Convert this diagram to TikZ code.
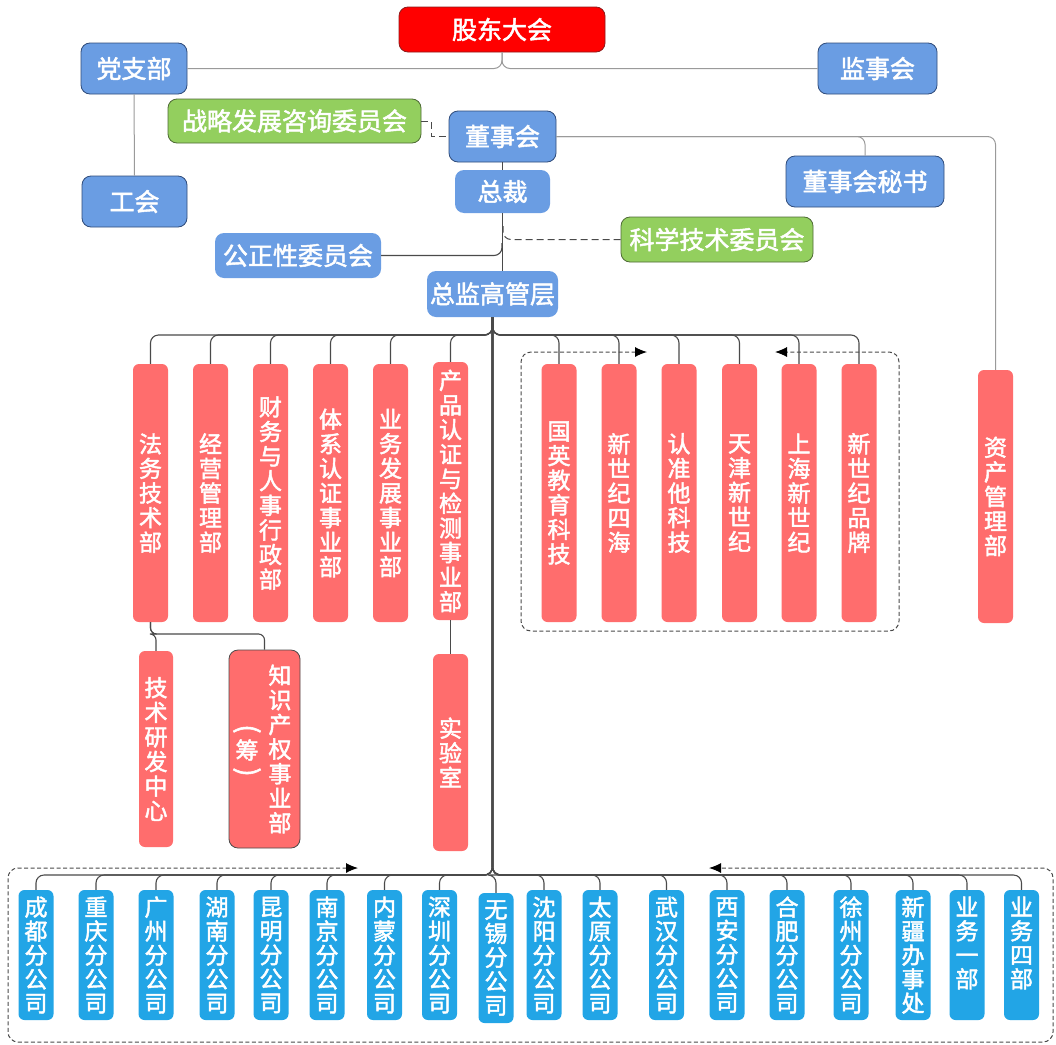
\documentclass[tikz,border=0pt]{standalone}
\usepackage{fontspec}
\setmainfont{Noto Sans CJK SC}[FakeBold=2]
\usetikzlibrary{arrows.meta}
\definecolor{gdred}{HTML}{FF0000}
\definecolor{gdborder}{HTML}{8E1B1B}
\definecolor{tblue}{HTML}{6A9DE3}
\definecolor{tborder}{HTML}{2F4B7A}
\definecolor{tgreen}{HTML}{93CF5E}
\definecolor{gborder}{HTML}{4E6A35}
\definecolor{salmon}{HTML}{FF6D6D}
\definecolor{bblue}{HTML}{22A5E6}
\definecolor{lgray}{HTML}{9A9A9A}
\definecolor{dgray}{HTML}{4A4A4A}
\begin{document}
\begin{tikzpicture}[x=1pt,y=-1pt,
 orgbox/.style={rounded corners=9pt, inner sep=0pt, text=white, font=\fontsize{25}{28}\selectfont},
 bluebd/.style={orgbox, fill=tblue, draw=tborder, line width=0.8pt},
 bluenb/.style={orgbox, fill=tblue},
 greenbox/.style={orgbox, fill=tgreen, draw=gborder, line width=0.8pt},
 colbox/.style={rounded corners=6pt, inner sep=0pt, fill=salmon, text=white, align=center, font=\fontsize{23}{24.6}\selectfont, minimum width=35pt, minimum height=258pt},
 bcolbox/.style={rounded corners=6pt, inner sep=0pt, fill=bblue, text=white, align=center, font=\fontsize{23}{24}\selectfont, minimum width=35pt, minimum height=130pt},
 vlabel/.style={inner sep=0pt, text=white, align=center, font=\fontsize{23}{24.6}\selectfont},
 parlabel/.style={inner sep=0pt, text=white, font=\fontsize{27}{27}\selectfont, rotate=-90},
 gline/.style={draw=lgray, line width=1pt, rounded corners=8pt},
 dline/.style={draw=dgray, line width=1.1pt, rounded corners=8pt},
 dashln/.style={draw=dgray, line width=1pt, dash pattern=on 4pt off 2.5pt},
 longdash/.style={draw=dgray, line width=1pt, dash pattern=on 7pt off 4pt},
 tipstyle/.style={{Latex[length=12pt,width=10pt,color=black,fill=black]}-{Latex[length=12pt,width=10pt,color=black,fill=black]}}
 ]
\fill[white] (0,0) rectangle (1056,1044);
\useasboundingbox (0,0) rectangle (1056,1044);

% ---- top level ----
\node[orgbox, fill=gdred, draw=gdborder, line width=0.8pt, minimum width=206pt, minimum height=45pt] (gd) at (502,29.5) {股东大会};
\node[bluebd, minimum width=106pt, minimum height=51pt] (dzb) at (134,68.5) {党支部};
\node[bluebd, minimum width=119pt, minimum height=51pt] (jsh) at (877.5,68.5) {监事会};
\node[bluebd, minimum width=105pt, minimum height=51pt] (gh) at (134.5,201.5) {工会};
\node[greenbox, minimum width=253pt, minimum height=44pt] (zl) at (294.5,121) {战略发展咨询委员会};
\node[bluebd, minimum width=107pt, minimum height=51pt] (dsh) at (502.5,136.5) {董事会};
\node[bluenb, minimum width=95pt, minimum height=43pt] (zc) at (502.5,191.5) {总裁};
\node[bluebd, minimum width=158pt, minimum height=51pt] (ms) at (865,181.5) {董事会秘书};
\node[bluenb, minimum width=166pt, minimum height=45pt] (gzx) at (298,255.5) {公正性委员会};
\node[greenbox, minimum width=192pt, minimum height=45pt] (kx) at (717,239.5) {科学技术委员会};
\node[bluenb, minimum width=131pt, minimum height=46pt] (zj) at (492.5,294) {总监高管层};

% ---- departments ----
\node[colbox] (fw) at (150.5,493) {法\\务\\技\\术\\部};
\node[colbox] (jy) at (210.5,493) {经\\营\\管\\理\\部};
\node[colbox] (cw) at (270.5,493) {财\\务\\与\\人\\事\\行\\政\\部};
\node[colbox] (tx) at (330.5,493) {体\\系\\认\\证\\事\\业\\部};
\node[colbox] (ywf) at (390.5,493) {业\\务\\发\\展\\事\\业\\部};
\node[colbox] (cp) at (450.5,491) {产\\品\\认\\证\\与\\检\\测\\事\\业\\部};
\node[colbox] (gy) at (559,493) {国\\英\\教\\育\\科\\技};
\node[colbox] (sh) at (619,493) {新\\世\\纪\\四\\海};
\node[colbox] (rz) at (679,493) {认\\准\\他\\科\\技};
\node[colbox] (tj) at (739.5,493) {天\\津\\新\\世\\纪};
\node[colbox] (shx) at (799,493) {上\\海\\新\\世\\纪};
\node[colbox] (pp) at (859,493) {新\\世\\纪\\品\\牌};
\node[colbox, minimum height=253pt] (zc2) at (995.5,496.5) {资\\产\\管\\理\\部};

% ---- second level ----
\node[colbox, minimum width=34pt, minimum height=196pt] (js) at (156,749) {技\\术\\研\\发\\中\\心};
\node[rounded corners=9pt, fill=salmon, draw=dgray, line width=0.8pt, minimum width=71pt, minimum height=198pt, inner sep=0pt] (zs) at (264.5,749) {};
\node[vlabel] (zsA) at (280,749) {知\\识\\产\\权\\事\\业\\部};
\node[vlabel] (zsB) at (247,750) {筹};
\node[parlabel] (zsC) at (247,729) {(};
\node[parlabel] (zsD) at (247,772) {)};
\node[colbox, minimum height=197pt] (sys) at (450.5,752.5) {实\\验\\室};

% ---- branches ----
\foreach \n/\x/\t in {cd/36/成\\都\\分\\公\\司, cq/96/重\\庆\\分\\公\\司, gz/156/广\\州\\分\\公\\司, hn/217/湖\\南\\分\\公\\司, km/271/昆\\明\\分\\公\\司, nj/327/南\\京\\分\\公\\司, nm/384.5/内\\蒙\\分\\公\\司, sz/439.5/深\\圳\\分\\公\\司, sy/544/沈\\阳\\分\\公\\司, ty/600/太\\原\\分\\公\\司, wh/666.5/武\\汉\\分\\公\\司, xa/727/西\\安\\分\\公\\司, hf/787/合\\肥\\分\\公\\司, xz/851/徐\\州\\分\\公\\司, xj/913/新\\疆\\办\\事\\处}
  \node[bcolbox] (\n) at (\x,955) {\t};
\node[bcolbox] (wx) at (496,958) {无\\锡\\分\\公\\司};
\node[bcolbox] (yw1) at (967,955) {业\\务\\一\\部\\\phantom{部}};
\node[bcolbox] (yw4) at (1021.5,955) {业\\务\\四\\部\\\phantom{部}};

% ---- helper coordinates ----
\coordinate (tbar) at (0,335);
\coordinate (fbar) at (0,634);
\coordinate (bbar) at (0,875);
\coordinate (v1) at (502,243);
\coordinate (v2) at (503,226);
\coordinate (mA) at (647,352);
\coordinate (mB) at (775,352);
\coordinate (bA) at (358,868);
\coordinate (bB) at (709,868);

% ---- connectors ----
\draw[gline] (gd.south) |- (dzb.east);
\draw[gline] (gd.south) |- (jsh.west);
\draw[gline] (dzb.south) -- (gh.north);
\draw[longdash] (zl.east) -- ++(10,0) |- (dsh.west);
\draw[dline] (dsh.south) -- (zc.north);
\draw[dline] (zc.south) -- (zc.south |- zj.north);
\draw[dline] (gzx.east) -| (v1);
\draw[longdash, rounded corners=8pt] (kx.west) -| (v2);
\draw[gline] (dsh.east) -| (ms.north);
\draw[gline] (dsh.east) -| (zc2.north);
\foreach \n in {fw,jy,cw,tx,ywf,cp,gy,sh,rz,tj,shx,pp}
  \draw[dline] (zj.south) -- (zj.south |- tbar) -| (\n.north);
\draw[dline, rounded corners=6pt] (fw.south) -- (fw.south |- fbar) -| (js.north);
\draw[dline, rounded corners=6pt] (fw.south) -- (fw.south |- fbar) -| (zs.north);
\draw[dline] (cp.south) -- (sys.north);
\foreach \n in {cd,cq,gz,hn,km,nj,nm,sz,wx,sy,ty,wh,xa,hf,xz,xj,yw1,yw4}
  \draw[dline] (zj.south) -- (zj.south |- bbar) -| (\n.north);

% ---- dashed groups ----
\draw[dashln, rounded corners=10pt, tipstyle] (mA) -- (521,352) -- (521,631) -- (899,631) -- (899,352) -- (mB);
\draw[dashln, rounded corners=10pt, tipstyle] (bA) -- (8,868) -- (8,1042) -- (1053,1042) -- (1053,868) -- (bB);
\end{tikzpicture}
\end{document}
